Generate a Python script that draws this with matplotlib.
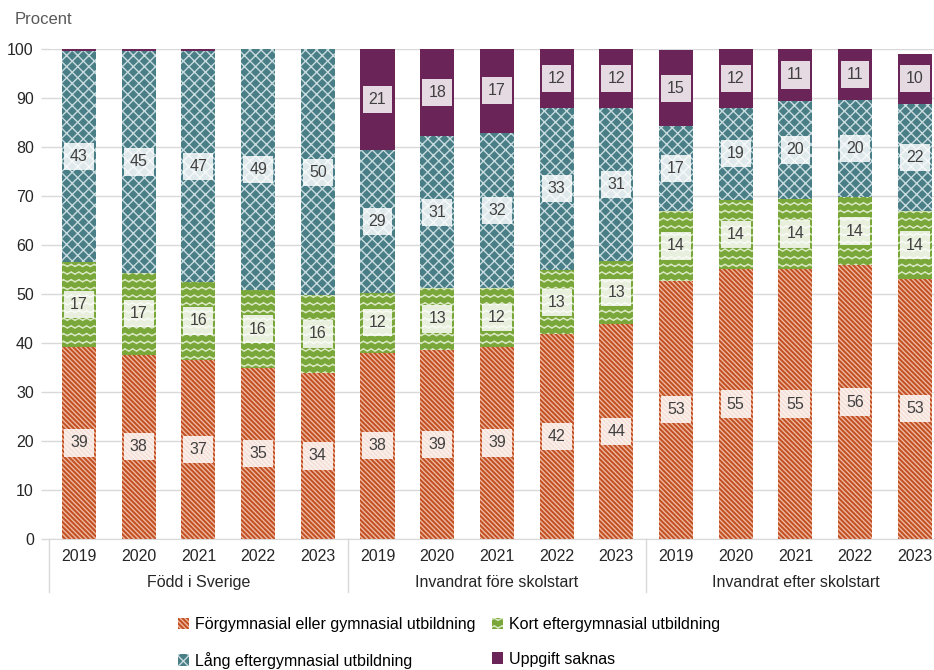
import warnings
import numpy as np
import matplotlib
matplotlib.use("Agg")
import matplotlib.pyplot as plt
import matplotlib.hatch as mhatch
import matplotlib.transforms as mtrans
from matplotlib.path import Path

warnings.filterwarnings("ignore")

# Data (procent)
groups = ["Född i Sverige", "Invandrat före skolstart", "Invandrat efter skolstart"]
years = ["2019", "2020", "2021", "2022", "2023"]
forg = [39.2, 37.6, 36.6, 34.9, 33.9, 38.0, 38.6, 39.2, 41.8, 43.9, 52.7, 55.1, 55.1, 55.9, 53.1]
kort = [17.3, 16.7, 15.8, 15.9, 15.9, 12.2, 12.6, 12.0, 13.1, 12.8, 14.2, 14.1, 14.3, 13.9, 13.8]
lang = [43.1, 45.3, 47.1, 49.1, 50.1, 29.2, 31.0, 31.7, 33.1, 31.3, 17.4, 18.8, 20.0, 19.7, 21.9]
uppg = [0.4, 0.4, 0.4, 0.1, 0.1, 20.6, 17.8, 17.1, 12.0, 12.0, 15.4, 12.0, 10.6, 10.6, 10.2]
series_names = ["Förgymnasial eller gymnasial utbildning", "Kort eftergymnasial utbildning",
                "Lång eftergymnasial utbildning", "Uppgift saknas"]


# wavy hatch for the green series ('~')
class WaveHatch(mhatch.HatchPatternBase):
    def __init__(self, hatch, density):
        self.num_rows = hatch.count('~') * 13
        self.num_pts = 53
        self.num_vertices = self.num_rows * self.num_pts

    def set_vertices_and_codes(self, vertices, codes):
        t = np.linspace(0, 1, self.num_pts)
        for i in range(self.num_rows):
            y0 = (i + 0.5) / self.num_rows
            sl = slice(i * self.num_pts, (i + 1) * self.num_pts)
            vertices[sl, 0] = t
            vertices[sl, 1] = y0 + 0.012 * np.sin(2 * np.pi * 13 * t)
            codes[sl] = Path.LINETO
            codes[i * self.num_pts] = Path.MOVETO


# diamond lattice for the teal series ('#')
class LatticeHatch(mhatch.HatchPatternBase):
    def __init__(self, hatch, density):
        self.num_lines = hatch.count('#') * 18
        self.num_vertices = (self.num_lines + 1) * 4 if self.num_lines else 0

    def set_vertices_and_codes(self, vertices, codes):
        steps = np.linspace(-0.5, 0.5, self.num_lines + 1)
        n = (self.num_lines + 1) * 2
        ne, se = vertices[:n], vertices[n:]
        ne[0::2, 0] = 0.0 + steps
        ne[0::2, 1] = 0.0 - steps
        ne[1::2, 0] = 1.0 + steps
        ne[1::2, 1] = 1.0 - steps
        se[0::2, 0] = 0.0 + steps
        se[0::2, 1] = 1.0 + steps
        se[1::2, 0] = 1.0 + steps
        se[1::2, 1] = 0.0 + steps
        codes[0::2] = Path.MOVETO
        codes[1::2] = Path.LINETO


mhatch._hatch_types.extend([WaveHatch, LatticeHatch])

plt.rcParams['font.family'] = ['Liberation Sans', 'DejaVu Sans']
plt.rcParams['hatch.linewidth'] = 1.0

fig = plt.figure(figsize=(9.34, 6.7), dpi=100)
step = 59.7
ax = fig.add_axes([(79 - step / 2) / 934, 1 - 539 / 670, 15 * step / 934, 490 / 670])

x = np.arange(len(forg))
w = 0.57
fs = 11.5
styles = [
    dict(color="#c24f22", edgecolor="#eeb8a0", hatch="\\" * 7),
    dict(color="#7aa73a", edgecolor="#dbe9c6", hatch="~"),
    dict(color="#4a7e87", edgecolor="#c8dcdf", hatch="#"),
    dict(color="#6b2458", edgecolor="#6b2458", hatch=None),
]
data = [forg, kort, lang, uppg]
bars = []
bottom = np.zeros(len(forg))
for vals, name, st in zip(data, series_names, styles):
    vals = np.array(vals)
    b = ax.bar(x, vals, w, bottom=bottom, label=name, linewidth=0, zorder=2, **st)
    bars.append(b)
    for xi, b0, v in zip(x, bottom, vals):
        if v >= 5:
            ax.text(xi, b0 + v / 2, f"{round(v):d}", ha='center', va='center', fontsize=fs,
                    color="#404040", zorder=3,
                    bbox=dict(boxstyle='square,pad=0.38', fc='white', ec='none', alpha=0.83))
    bottom += vals

ax.set_xlim(-0.5, 14.5)
ax.set_ylim(0, 100)
ax.set_yticks(range(0, 101, 10))
ax.set_xticks(x)
ax.set_xticklabels(years * 3)
ax.tick_params(axis='x', length=0, pad=7, labelsize=fs, colors="#262626")
ax.tick_params(axis='y', length=6, width=1, color="#d9d9d9", pad=5, labelsize=fs, labelcolor="#262626")
ax.grid(axis='y', color="#d9d9d9", linewidth=1, zorder=0)
ax.set_axisbelow(True)
for s in ['top', 'right', 'left']:
    ax.spines[s].set_visible(False)
ax.spines['bottom'].set_color("#d9d9d9")

trans = mtrans.blended_transform_factory(ax.transData, ax.transAxes)
for sep in [-0.5, 4.5, 9.5, 14.5]:
    ax.plot([sep, sep], [0, -0.108], transform=trans, color="#d9d9d9", linewidth=1, clip_on=False)
for i, g in enumerate(groups):
    ax.text(i * 5 + 2, -0.088, g, transform=trans, ha='center', va='center', fontsize=fs, color="#262626")

fig.text(15 / 934, 1 - 20 / 670, "Procent", ha='left', va='center', fontsize=12, color="#595959")

order = [0, 2, 1, 3]
fig.legend([bars[i] for i in order], [series_names[i] for i in order],
           loc='center', bbox_to_anchor=(0.481, 1 - 643 / 670), ncol=2, frameon=False, fontsize=fs,
           handlelength=0.7, handleheight=0.7, handletextpad=0.4, columnspacing=1.0, labelspacing=1.2)

fig.savefig("out.png", dpi=100)
